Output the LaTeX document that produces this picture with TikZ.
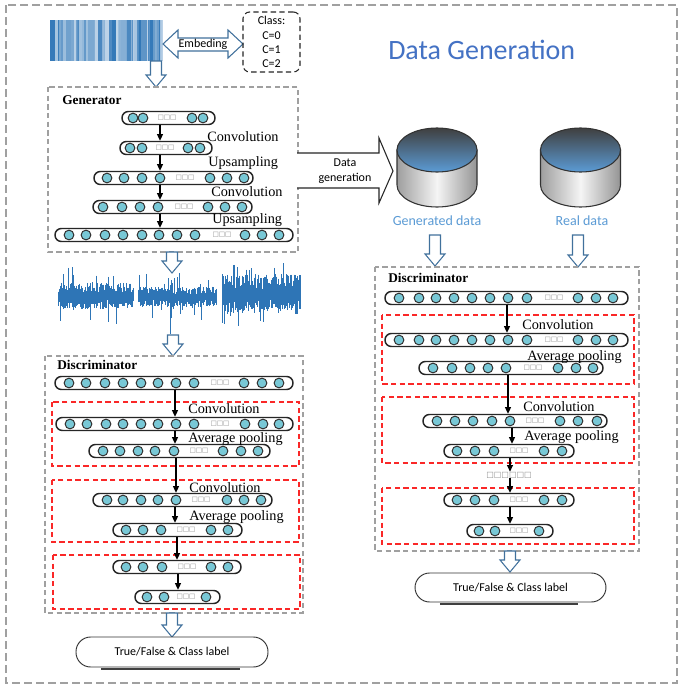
\documentclass[tikz,border=0pt]{standalone}
\usepackage{fontspec}
\setmainfont{Liberation Serif}
\newfontfamily\calfont{Carlito}
\newfontfamily\boxfont{DejaVu Sans}
\usetikzlibrary{arrows.meta}
\definecolor{cellc}{RGB}{120,200,214}
\definecolor{holc}{RGB}{65,113,156}
\definecolor{titc}{RGB}{68,114,196}
\definecolor{gdc}{RGB}{91,155,213}
\definecolor{wavec}{RGB}{46,117,182}
\definecolor{redd}{RGB}{250,40,40}
\definecolor{grayd}{RGB}{160,160,160}
\tikzset{
  pill/.style={draw=black!85, line width=1.1pt, fill=white, rounded corners=4.8pt, minimum height=9.75pt, inner sep=0pt},
  cell/.style={circle, draw=black!80, line width=0.75pt, fill=cellc, minimum size=7.3pt, inner sep=0pt},
  dots/.style={font=\boxfont\fontsize{5}{6}\selectfont, text=black!45, inner sep=0pt},
  lbl/.style={font=\fontsize{10.7}{12}\selectfont, inner sep=0pt, anchor=west},
  hdr/.style={font=\bfseries\fontsize{10}{12}\selectfont, inner sep=0pt, anchor=west},
  flow/.style={-{Triangle[length=5pt,width=4.5pt]}, line width=0.8pt, black},
  hol/.style={draw=holc, line width=0.8pt, fill=white},
  gbox/.style={draw=grayd, line width=0.8pt, dash pattern=on 4pt off 2.5pt},
  rbox/.style={draw=redd, line width=1pt, dash pattern=on 4pt off 2.5pt},
  tf/.style={draw=black!80, line width=0.7pt, rounded corners=11pt, fill=white, inner sep=0pt, font=\calfont\fontsize{9}{11}\selectfont},
  shadowline/.style={black!75, line width=1.6pt},
  wv/.style={wavec, line width=0.45pt}
}
\newcommand\nnlayer[6]{%
  \node[pill, minimum width={(#3-#2)*0.75pt}] (#1) at ({(#2+#3)/2},#4) {};
  \foreach \cx [count=\ci] in {#5} \node[cell] (#1c\ci) at (\cx,#4) {};
  \node[dots] (#1d) at (#6,#4) {□□□};
}
\newcommand\hollowdn[3]{%
  \draw[hol] (#1-5.5,#2) -- (#1-5.5,#3-12) -- (#1-10,#3-12) -- (#1,#3) -- (#1+10,#3-12) -- (#1+5.5,#3-12) -- (#1+5.5,#2) -- cycle;
}
\newcommand\wavebar[5]{%
  \foreach \k in {0,...,#2}{
    \pgfmathsetmacro\wx{#1+0.6*\k}
    \pgfmathsetmacro\wa{rnd>0.9 ? #5*(0.3+0.7*rnd) : #4*(0.3+0.8*rnd)}
    \pgfmathsetmacro\wb{rnd>0.9 ? #5*(0.3+0.7*rnd) : #4*(0.3+0.8*rnd)}
    \draw[wv] (\wx,#3-\wa) -- (\wx,#3+\wb);
  }%
}
\newcommand\dbcyl[1]{%
  \shadedraw[left color=black!38, right color=black!42, middle color=black!4, draw=black!80, line width=0.8pt]
    (#1-40,150) -- (#1-40,185) arc[start angle=180, end angle=0, x radius=40, y radius=22] -- (#1+40,150) -- cycle;
  \shadedraw[top color=black!75, bottom color=gdc, draw=black!80, line width=0.8pt]
    (#1,150) ellipse [x radius=40, y radius=22];
}
\begin{document}
\begin{tikzpicture}[x=0.75pt, y=-0.75pt]
\useasboundingbox (0,0) rectangle (684,690);
\fill[white] (0,0) rectangle (684,690);
\draw[grayd, line width=0.8pt, dash pattern=on 6pt off 3pt] (6,5) rectangle (677,683);

% barcode
\pgfmathsetseed{11}
\gdef\prevs{50}
\foreach \i in {0,...,112}{
  \pgfmathsetmacro\s{int(rnd>0.55 ? 30+70*rnd : \prevs)}
  \xdef\prevs{\s}
  \fill[wavec!\s!white] (50+\i,20) rectangle (51.1+\i,61);
}
% embedding arrow
\draw[hol] (163,44) -- (178,30) -- (178,38) -- (228,38) -- (228,30) -- (243,44) -- (228,58) -- (228,51) -- (178,51) -- (178,58) -- cycle;
\node[font=\calfont\fontsize{9}{11}\selectfont, inner sep=0pt] (emb) at (203,44.5) {Embeding};
\node[draw=black!85, line width=0.8pt, dash pattern=on 4pt off 2.5pt, rounded corners=5pt, minimum width={57*0.75pt}, minimum height={60*0.75pt}, align=center, inner sep=0pt, font=\calfont\fontsize{9}{10.6}\selectfont] (cls) at (271.5,42) {Class:\\C=0\\C=1\\C=2};
\hollowdn{156}{61}{87}

% title
\node[font=\calfont\fontsize{21}{25}\selectfont, text=titc, anchor=west, inner sep=0pt] (title) at (388,50) {Data Generation};

% generator
\draw[gbox] (48,87) rectangle (298,252);
\node[hdr] (genl) at (62,100) {Generator};
\nnlayer{g1}{122}{215}{118}{133,143,192,203}{167}
\nnlayer{g2}{120}{212}{148}{130,142,188,200}{165}
\nnlayer{g3}{94}{253}{178}{107,124,142,160,210,227,244}{185}
\nnlayer{g4}{93}{252}{207}{103,122,140,158,208,225,242}{184}
\nnlayer{g5}{55}{293}{235}{69,86,105,123,142,159,177,195,245,262,279}{222}
\node[lbl] (gt1) at (207,137) {Convolution};
\node[lbl] (gt2) at (208,163) {Upsampling};
\node[lbl] (gt3) at (211,192) {Convolution};
\node[lbl] (gt4) at (212,220) {Upsampling};
\draw[flow] (g1.south -| 160,0) -- (g2.north -| 160,0);
\draw[flow] (g2.south -| 160,0) -- (g3.north -| 160,0);
\draw[flow] (g3.south -| 160,0) -- (g4.north -| 160,0);
\draw[flow] (g4.south -| 160,0) -- (g5.north -| 160,0);

% data generation arrow
\fill[white] (297,153) -- (379,153) -- (379,138) -- (393,171) -- (379,203) -- (379,188) -- (297,188) -- cycle;
\draw[black!85, line width=0.8pt] (297,153) -- (379,153) -- (379,138) -- (393,171) -- (379,203) -- (379,188) -- (297,188);
\node[font=\calfont\fontsize{9}{11.5}\selectfont, align=center, inner sep=0pt] (dgl) at (345,171) {Data\\generation};

% cylinders
\dbcyl{437}
\dbcyl{580.5}
\node[font=\calfont\fontsize{10.5}{12}\selectfont, text=gdc, inner sep=0pt] (gdl) at (437,221) {Generated data};
\node[font=\calfont\fontsize{10.5}{12}\selectfont, text=gdc, inner sep=0pt] (rdl) at (582,221) {Real data};
\hollowdn{435}{235}{266}
\hollowdn{578}{235}{267}

% waveforms
\pgfmathsetseed{5}
\wavebar{58}{125}{296}{12}{31}
\wavebar{138}{130}{297}{9}{24}
\draw[wv] (170,285) -- (170,334);
\draw[wv] (171,280) -- (171,318);
\wavebar{222}{130}{294}{18}{32}
\hollowdn{172}{252}{273}
\hollowdn{173}{335}{356}

% left discriminator
\draw[gbox] (45,356) rectangle (303,613);
\draw[rbox] (52,402) rectangle (299,466);
\draw[rbox] (52,480) rectangle (299,542);
\draw[rbox] (53,555) rectangle (300,609);
\node[hdr] (ldl) at (57,365) {Discriminator};
\nnlayer{la}{55}{293}{383}{69,86,105,123,141,158,176,194,244,262,279}{220}
\nnlayer{lb}{56}{293}{424}{70,87,106,123,141,158,176,194,245,263,279}{220}
\nnlayer{lc}{89}{270}{451}{103,120,138,155,174,223,241,258}{199}
\nnlayer{ld}{93}{272}{500}{107,123,141,158,176,227,244,261}{201}
\nnlayer{le}{113}{242}{530}{126,143,161,211,228}{186}
\nnlayer{lf}{113}{241}{567}{126,143,162,211,228}{187}
\nnlayer{lg}{135}{220}{597}{147,164,206}{186}
\node[lbl] (lt1) at (188,409) {Convolution};
\node[lbl] (lt2) at (188,439) {Average pooling};
\node[lbl] (lt3) at (189,488) {Convolution};
\node[lbl] (lt4) at (189,517) {Average pooling};
\draw[flow] (la.south -| 175,0) -- (lb.north -| 175,0);
\draw[flow] (lb.south -| 175,0) -- (lc.north -| 175,0);
\draw[flow] (lc.south -| 176,0) -- (ld.north -| 176,0);
\draw[flow] (ld.south -| 175,0) -- (le.north -| 175,0);
\draw[flow] (le.south -| 177,0) -- (lf.north -| 177,0);
\draw[flow] (lf.south -| 178,0) -- (lg.north -| 178,0);
\hollowdn{172}{613}{637}
\node[tf, minimum width={192*0.75pt}, minimum height={30*0.75pt}] (tfl) at (172,652) {True/False \& Class label};
\draw[shadowline] ([xshift=19pt,yshift=-0.9pt]tfl.south west) -- ([xshift=-21pt,yshift=-0.9pt]tfl.south east);

% right discriminator
\draw[gbox] (375,267) rectangle (639,551);
\draw[rbox] (382,315) rectangle (634,384);
\draw[rbox] (382,397) rectangle (634,463);
\draw[rbox] (382,488) rectangle (634,544);
\node[hdr] (rdh) at (388,278) {Discriminator};
\nnlayer{ra}{385}{628}{298}{399,419,436,454,472,490,508,527,578,596,613}{554}
\nnlayer{rb}{385}{628}{340}{399,419,436,454,472,490,508,527,578,596,613}{554}
\nnlayer{rc}{419}{603}{368}{433,452,470,488,506,558,576,593}{533}
\nnlayer{rd}{423}{607}{421}{437,455,473,492,510,560,578,597}{535}
\nnlayer{re}{444}{574}{451}{457,475,494,544,562}{519}
\nnlayer{rf}{444}{574}{500}{457,475,494,544,562}{519}
\nnlayer{rg}{467}{553}{531}{479,495,539}{519}
\node[lbl] (rt1) at (522,325) {Convolution};
\node[lbl] (rt2) at (527,357) {Average pooling};
\node[lbl] (rt3) at (523,407) {Convolution};
\node[lbl] (rt4) at (524,437) {Average pooling};
\node[dots, font=\boxfont\fontsize{6}{7}\selectfont] (rdots) at (509,475) {□□□□□□};
\draw[flow] (ra.south -| 507,0) -- (rb.north -| 507,0);
\draw[flow] (rc.south -| 508,0) -- (rd.north -| 508,0);
\draw[flow] (rd.south -| 512,0) -- (re.north -| 512,0);
\draw[flow] (re.south -| 510,0) -- (rdots.north -| 510,0);
\draw[flow] (rdots.south -| 510,0) -- (rf.north -| 510,0);
\draw[flow] (rf.south -| 510,0) -- (rg.north -| 510,0);
\hollowdn{510}{551}{572}
\node[tf, minimum width={191*0.75pt}, minimum height={29*0.75pt}] (tfr) at (510.5,587.5) {True/False \& Class label};
\draw[shadowline] ([xshift=19pt,yshift=-0.9pt]tfr.south west) -- ([xshift=-21pt,yshift=-0.9pt]tfr.south east);
\end{tikzpicture}
\end{document}
